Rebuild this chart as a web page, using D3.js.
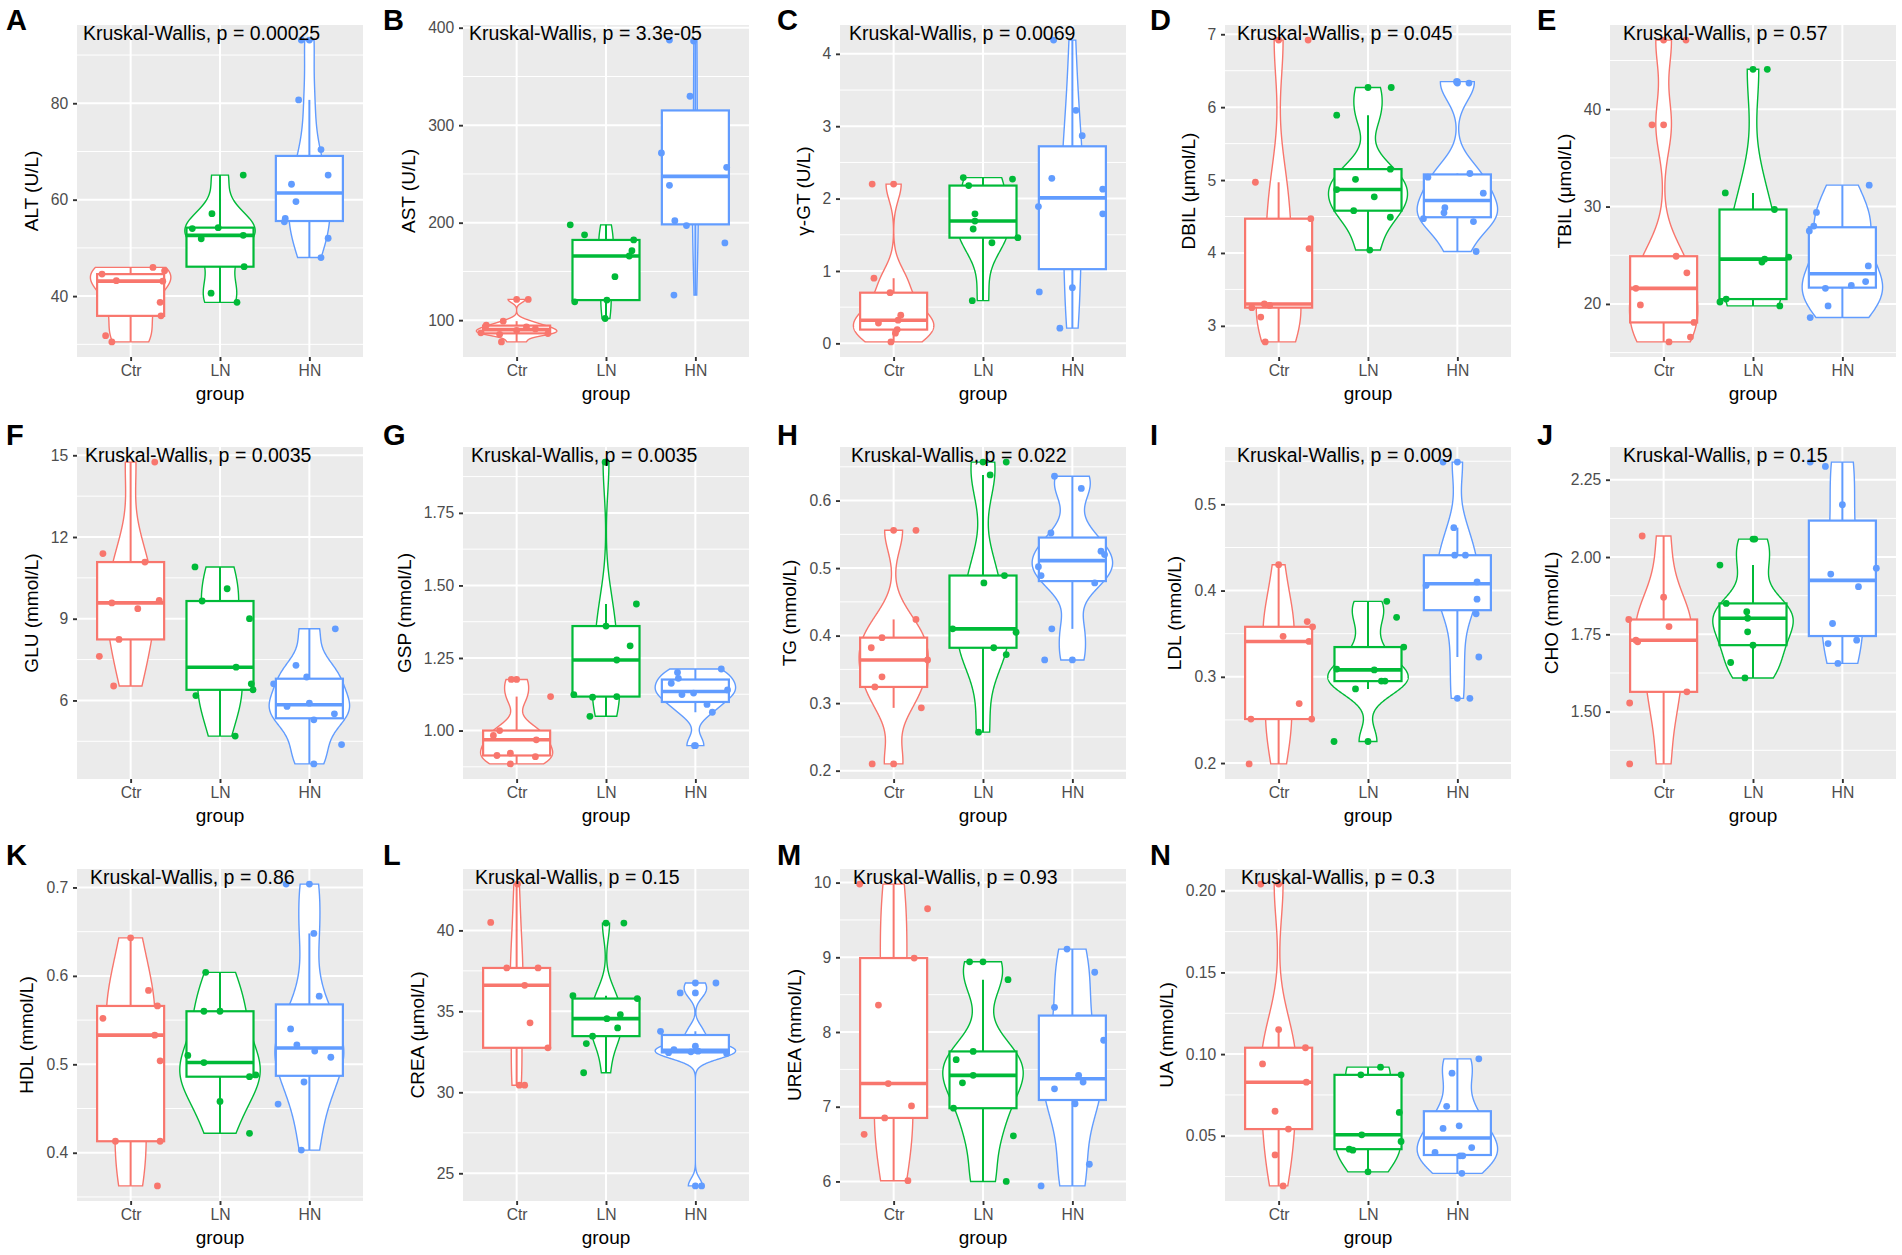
<!DOCTYPE html>
<html lang="en">
<head>
<meta charset="UTF-8">
<title>Serum biochemistry by group</title>
<script src="https://d3js.org/d3.v7.min.js"></script>
<style>
  body { margin: 0; background: #fff; }
  svg { display: block; }
  text { font-family: "Liberation Sans", Arial, sans-serif; }
</style>
</head>
<body>
<svg id="fig" width="1902" height="1255"></svg>
<script>
const groups = ["Ctr", "LN", "HN"];
const groupColors = ["#F8766D", "#00BA38", "#619CFF"];
const panelLetters = ["A","B","C","D","E","F","G","H","I","J","K","L","M","N"];
const yTitles = ["ALT (U/L)", "AST (U/L)", "\u03b3-GT (U/L)", "DBIL (\u03bcmol/L)", "TBIL (\u03bcmol/L)",
  "GLU (mmol/L)", "GSP (mmol/L)", "TG (mmol/L)", "LDL (mmol/L)", "CHO (mmol/L)",
  "HDL (mmol/L)", "CREA (\u03bcmol/L)", "UREA (mmol/L)", "UA (mmol/L)"];
const pLabels = ["0.00025", "3.3e-05", "0.0069", "0.045", "0.57", "0.0035", "0.0035", "0.022",
  "0.009", "0.15", "0.86", "0.15", "0.93", "0.3"];
const yTicks = [
  ["40","60","80"], ["100","200","300","400"], ["0","1","2","3","4"], ["3","4","5","6","7"],
  ["20","30","40"], ["6","9","12","15"], ["1.00","1.25","1.50","1.75"],
  ["0.2","0.3","0.4","0.5","0.6"], ["0.2","0.3","0.4","0.5"], ["1.50","1.75","2.00","2.25"],
  ["0.4","0.5","0.6","0.7"], ["25","30","35","40"], ["6","7","8","9","10"],
  ["0.05","0.10","0.15","0.20"]
];

// values per group (Ctr, LN, HN)
const ALT = [
  [45.95, 45.25, 44.56, 43.2, 43.1, 38.7, 35.9, 31.8, 30.5],
  [65.1, 57.1, 54.0, 54.2, 51.9, 52.6, 46.1, 40.6, 38.7],
  [93.1, 80.7, 70.4, 65.1, 63.2, 59.6, 56.1, 55.4, 52.0, 48.0]
];
const AST = [
  [121.3, 99, 94.9, 93, 87, 89.5, 91, 86.3, 85.5, 77.7],
  [197.8, 187.5, 182.3, 171.3, 165.8, 144.6, 118.8, 120.6, 101.7],
  [387.3, 386.3, 329.7, 271.5, 256.8, 238.3, 202.1, 197, 179.2, 125.7]
];
const GGT = [
  [2.2, 0.90, 0.70, 0.39, 0.32, 0.28, 0.19, 0.14, 0.02],
  [2.29, 2.27, 2.18, 1.79, 1.69, 1.58, 1.39, 1.46, 0.59],
  [4.19, 3.22, 2.87, 2.28, 2.13, 1.89, 1.79, 0.71, 0.77, 0.21]
];
const DBIL = [
  [6.92, 4.97, 4.47, 4.06, 3.30, 3.28, 3.25, 3.12, 2.78],
  [6.27, 5.89, 5.15, 5.01, 4.87, 4.77, 4.58, 4.49, 4.04],
  [6.35, 6.33, 5.09, 5.04, 4.82, 4.62, 4.55, 4.47, 4.43, 4.02]
];
const TBIL = [
  [47.1, 38.4, 24.9, 23.2, 21.6, 19.9, 18.1, 16.6, 16.1],
  [44.1, 31.4, 29.7, 24.8, 24.6, 24.3, 20.5, 20.2, 19.8],
  [32.2, 29.4, 28.0, 27.5, 23.9, 22.3, 21.9, 21.6, 19.8, 18.6]
];
const GLU = [
  [14.75, 11.39, 11.08, 9.67, 9.58, 9.37, 8.24, 7.62, 6.53],
  [10.9, 10.1, 9.65, 9.0, 7.22, 6.61, 6.39, 6.18, 4.69],
  [8.63, 7.29, 6.86, 6.61, 5.78, 5.90, 5.51, 5.29, 4.38, 3.67]
];
const GSP = [
  [1.176, 1.117, 1.0, 0.983, 0.968, 0.922, 0.914, 0.91, 0.885],
  [1.925, 1.436, 1.36, 1.292, 1.243, 1.124, 1.117, 1.115, 1.049],
  [1.212, 1.2, 1.18, 1.163, 1.14, 1.129, 1.124, 1.09, 1.063, 0.948]
];
const TG = [
  [0.556, 0.424, 0.397, 0.382, 0.364, 0.339, 0.324, 0.293, 0.210],
  [0.657, 0.638, 0.489, 0.478, 0.41, 0.405, 0.382, 0.372, 0.257],
  [0.636, 0.618, 0.552, 0.525, 0.52, 0.502, 0.489, 0.478, 0.41, 0.364]
];
const LDL = [
  [0.430, 0.364, 0.358, 0.347, 0.341, 0.269, 0.251, 0.251, 0.199],
  [0.3875, 0.369, 0.3345, 0.309, 0.308, 0.295, 0.295, 0.286, 0.225],
  [0.549, 0.473, 0.441, 0.441, 0.41, 0.406, 0.39, 0.373, 0.323, 0.275]
];
const CHO = [
  [2.068, 1.870, 1.798, 1.775, 1.731, 1.726, 1.564, 1.528, 1.331],
  [2.058, 1.974, 1.85, 1.823, 1.802, 1.758, 1.715, 1.659, 1.609],
  [2.307, 2.293, 2.169, 1.964, 1.945, 1.904, 1.785, 1.72, 1.731, 1.656]
];
const HDL = [
  [0.643, 0.5835, 0.566, 0.552, 0.533, 0.504, 0.413, 0.413, 0.3625],
  [0.604, 0.56, 0.56, 0.51, 0.502, 0.488, 0.486, 0.458, 0.422],
  [0.7038, 0.648, 0.577, 0.54, 0.522, 0.515, 0.508, 0.48, 0.455, 0.403]
];
const CREA = [
  [42.86, 40.49, 37.68, 37.68, 36.61, 34.29, 32.75, 30.44, 30.44],
  [40.45, 35.97, 35.79, 34.8, 34.55, 33.98, 33.47, 33.01, 31.21],
  [36.75, 36.14, 33.77, 32.85, 32.64, 32.54, 32.5, 32.45, 32.4, 24.22]
];
const UREA = [
  [9.98, 9.65, 8.99, 8.36, 7.31, 7.01, 6.85, 6.63, 6.01],
  [8.94, 8.70, 7.74, 7.63, 7.42, 7.32, 6.98, 6.61, 6.0],
  [9.11, 8.80, 8.33, 7.89, 7.42, 7.33, 7.24, 7.04, 6.23, 5.94]
];
const UA = [
  [0.2041, 0.115, 0.1039, 0.094, 0.0828, 0.065, 0.0541, 0.0383, 0.0193],
  [0.092, 0.0873, 0.0873, 0.0643, 0.0506, 0.0465, 0.0418, 0.0412, 0.0279],
  [0.0971, 0.0883, 0.068, 0.0545, 0.0561, 0.0428, 0.0398, 0.0377, 0.0377, 0.027]
];

// horizontal jitter of each point, in category widths (as seen in the picture)
const ALT_jit = [
  [0.25, 0.38, -0.32, -0.16, 0.36, 0.33, 0.34, -0.28, -0.21],
  [0.26, -0.09, -0.31, -0.02, -0.21, 0.26, 0.27, -0.1, 0.19],
  [-0.09, -0.12, 0.13, 0.21, -0.2, -0.15, -0.27, -0.28, 0.21, 0.13]
];
const AST_jit = [
  [0.13, -0.15, -0.34, 0.11, -0.4, 0, 0.21, 0.35, -0.19, -0.17],
  [-0.4, -0.24, 0.31, 0.29, 0.26, 0.1, -0.35, 0.01, -0.01],
  [-0.29, -0.02, -0.06, -0.38, 0.35, -0.29, -0.23, -0.1, 0.33, -0.24]
];
const GGT_jit = [
  [-0.24, -0.22, -0.04, 0.08, 0.05, -0.17, 0.04, 0.02, -0.03],
  [-0.22, 0.33, -0.16, -0.09, -0.09, -0.11, 0.1, 0.39, -0.12],
  [-0.21, 0.04, 0.11, -0.23, 0.34, -0.38, 0.34, -0.37, 0, -0.14]
];
const DBIL_jit = [
  [0.33, -0.26, 0.36, 0.34, -0.16, -0.1, -0.3, -0.2, -0.15],
  [0.26, -0.35, 0.25, -0.14, -0.35, 0.07, -0.16, 0.25, 0.02],
  [-0.01, 0.13, 0.14, -0.33, 0.29, -0.14, -0.15, -0.38, 0.18, 0.21]
];
const TBIL_jit = [
  [0.25, -0.13, 0.14, 0.26, -0.31, -0.26, 0.34, 0.3, 0.06],
  [0.16, -0.31, 0.24, 0.4, 0.13, 0.1, -0.3, -0.37, 0.3],
  [0.3, -0.29, -0.32, -0.37, 0.29, 0.26, 0.1, -0.19, -0.16, -0.36]
];
const GLU_jit = [
  [0.27, -0.31, 0.16, 0.32, -0.21, 0.08, -0.13, -0.35, -0.19],
  [-0.28, 0.08, -0.2, 0.33, 0.18, 0.35, 0.37, -0.27, 0.17],
  [0.29, -0.15, -0.03, -0.4, -0.25, 0, 0.28, 0.05, 0.36, 0.05]
];
const GSP_jit = [
  [-0.06, 0.38, -0.19, -0.26, 0.22, -0.07, -0.22, 0.21, -0.07],
  [-0.01, 0.34, 0, 0.27, 0.12, -0.36, 0.12, -0.15, -0.18],
  [0.29, -0.2, -0.19, -0.27, 0.36, -0.02, -0.15, 0.13, 0.19, -0.01]
];
const TG_jit = [
  [0.25, 0.25, -0.13, -0.25, 0.38, -0.13, -0.21, 0.31, -0.24],
  [0.26, 0.08, 0.24, 0.01, -0.34, 0.37, 0.12, 0.26, -0.05],
  [-0.2, 0.1, -0.24, 0.32, 0.36, -0.38, -0.35, 0.25, -0.23, -0.31]
];
const LDL_jit = [
  [0, 0.32, 0.38, 0.05, 0.34, 0.23, -0.31, 0.37, -0.33],
  [0.21, 0.32, 0.4, -0.35, 0.07, 0.15, 0.19, -0.14, -0.38],
  [-0.16, -0.04, -0.03, 0.09, 0.22, -0.35, 0.22, 0.21, 0.24, 0.14]
];
const CHO_jit = [
  [-0.24, 0, -0.39, 0.06, -0.31, -0.29, 0.26, -0.38, -0.38],
  [0.02, -0.37, -0.3, -0.07, -0.06, -0.06, 0, -0.25, -0.09],
  [-0.36, -0.19, 0, 0.38, -0.13, 0.18, -0.11, -0.16, 0.16, -0.05]
];
const HDL_jit = [
  [0, 0.2, 0.3, -0.31, 0.27, 0.33, -0.17, 0.33, 0.3],
  [-0.16, -0.18, 0, -0.36, -0.18, 0.4, 0.33, 0, 0.33],
  [-0.26, 0.05, 0.11, -0.21, -0.14, 0.06, 0.24, -0.06, -0.35, -0.09]
];
const CREA_jit = [
  [0.01, -0.29, -0.11, 0.24, 0.09, 0.15, 0.35, 0.03, 0.09],
  [0.2, -0.37, 0.35, 0.16, 0.01, 0.13, -0.15, -0.22, -0.25],
  [0.23, -0.17, -0.39, 0, -0.24, 0.03, -0.05, -0.3, 0.35, 0.07]
];
const UREA_jit = [
  [-0.38, 0.38, 0.23, -0.17, -0.06, 0.2, -0.1, -0.33, 0.16],
  [-0.15, 0.28, -0.11, -0.3, -0.11, -0.23, -0.33, 0.34, 0.26],
  [-0.06, 0.25, -0.2, 0.35, 0.07, 0.12, -0.2, 0.03, 0.19, -0.35]
];
const UA_jit = [
  [-0.2, 0, 0.3, -0.18, 0.31, -0.04, 0.11, -0.04, 0.05],
  [0.14, -0.08, 0.37, 0.35, -0.07, 0.37, -0.21, -0.17, 0],
  [0.24, -0.06, -0.12, -0.16, 0.02, 0.16, -0.25, 0.03, 0.06, 0.05]
];

const panelValues = [ALT, AST, GGT, DBIL, TBIL, GLU, GSP, TG, LDL, CHO, HDL, CREA, UREA, UA];
const panelJitter = [ALT_jit, AST_jit, GGT_jit, DBIL_jit, TBIL_jit, GLU_jit, GSP_jit, TG_jit,
  LDL_jit, CHO_jit, HDL_jit, CREA_jit, UREA_jit, UA_jit];

// layout
const colX = [77, 463, 840, 1225, 1610], rowY = [25, 447, 869];
const pw = 286, ph = 332;
const letterX = [6, 383, 777, 1150, 1537], letterBase = [29.5, 445, 865];
const labelDx = [6, 6, 9, 12, 13, 8, 8, 11, 12, 13, 13, 12, 13, 16];

const svg = d3.select("#fig");
svg.append("rect").attr("width", 1902).attr("height", 1255).attr("fill", "#fff");

// gaussian kernel density, bw.nrd0, trimmed to the data range
function kde(v) {
  const s = v.slice().sort(d3.ascending);
  const n = s.length;
  const sd = d3.deviation(s);
  const iqr = d3.quantile(s, 0.75) - d3.quantile(s, 0.25);
  let lo = Math.min(sd, iqr / 1.34);
  if (!(lo > 0)) lo = sd || Math.abs(s[0]) || 1;
  const bw = 0.9 * lo * Math.pow(n, -0.2);
  const a = s[0], b = s[n - 1];
  const out = [];
  for (let j = 0; j < 512; j++) {
    const t = a + (b - a) * j / 511;
    let sum = 0;
    for (const xi of s) { const z = (t - xi) / bw; sum += Math.exp(-0.5 * z * z); }
    out.push([t, sum / (n * bw * Math.sqrt(2 * Math.PI))]);
  }
  return out;
}

function boxStats(v) {
  const s = v.slice().sort(d3.ascending);
  const q1 = d3.quantile(s, 0.25), med = d3.quantile(s, 0.5), q3 = d3.quantile(s, 0.75);
  const iqr = q3 - q1;
  const inside = s.filter(d => d >= q1 - 1.5 * iqr && d <= q3 + 1.5 * iqr);
  return {
    q1, med, q3,
    lo: d3.min(inside), hi: d3.max(inside),
    out: s.filter(d => d < q1 - 1.5 * iqr || d > q3 + 1.5 * iqr)
  };
}

panelValues.forEach((vals, i) => {
  const col = i % 5, row = Math.floor(i / 5);
  const x0 = colX[col], y0 = rowY[row];
  const g = svg.append("g");

  const x = d3.scalePoint().domain(groups).range([x0, x0 + pw]).padding(0.6);
  const step = x.step();
  const [lo, hi] = d3.extent(vals.flat());
  const pad = (hi - lo) * 0.05;
  const y = d3.scaleLinear().domain([lo - pad, hi + pad]).range([y0 + ph, y0]);

  const tickVals = yTicks[i].map(Number);
  const tStep = tickVals[1] - tickVals[0];
  const minors = [];
  for (let t = tickVals[0] - tStep / 2; t <= hi + pad; t += tStep) {
    if (t >= lo - pad) minors.push(t);
  }

  g.append("rect").attr("x", x0).attr("y", y0).attr("width", pw).attr("height", ph)
    .attr("fill", "#EBEBEB");
  g.selectAll(".minor").data(minors).join("line")
    .attr("x1", x0).attr("x2", x0 + pw).attr("y1", d => y(d)).attr("y2", d => y(d))
    .attr("stroke", "#fff").attr("stroke-width", 1);
  g.selectAll(".majorY").data(tickVals).join("line")
    .attr("x1", x0).attr("x2", x0 + pw).attr("y1", d => y(d)).attr("y2", d => y(d))
    .attr("stroke", "#fff").attr("stroke-width", 2);
  g.selectAll(".majorX").data(groups).join("line")
    .attr("x1", d => x(d)).attr("x2", d => x(d)).attr("y1", y0).attr("y2", y0 + ph)
    .attr("stroke", "#fff").attr("stroke-width", 2);

  // violins, scale = "area"
  const dens = vals.map(kde);
  const dmax = d3.max(dens, d => d3.max(d, p => p[1]));
  dens.forEach((d, k) => {
    const cx = x(groups[k]);
    const area = d3.area()
      .y(p => y(p[0]))
      .x0(p => cx - 0.45 * step * p[1] / dmax)
      .x1(p => cx + 0.45 * step * p[1] / dmax);
    g.append("path").attr("d", area(d)).attr("fill", "#fff")
      .attr("stroke", groupColors[k]).attr("stroke-width", 1.4);
  });

  // boxplots
  vals.forEach((v, k) => {
    const st = boxStats(v);
    const cx = x(groups[k]);
    const bw = 0.75 * step;
    const c = groupColors[k];
    g.selectAll(null).data(st.out).join("circle")
      .attr("cx", cx).attr("cy", d => y(d)).attr("r", 3.4).attr("fill", c);
    g.append("line").attr("x1", cx).attr("x2", cx).attr("y1", y(st.q3)).attr("y2", y(st.hi))
      .attr("stroke", c).attr("stroke-width", 2);
    g.append("line").attr("x1", cx).attr("x2", cx).attr("y1", y(st.q1)).attr("y2", y(st.lo))
      .attr("stroke", c).attr("stroke-width", 2);
    g.append("rect").attr("x", cx - bw / 2).attr("y", y(st.q3))
      .attr("width", bw).attr("height", y(st.q1) - y(st.q3))
      .attr("fill", "#fff").attr("stroke", c).attr("stroke-width", 2.2);
    g.append("line").attr("x1", cx - bw / 2).attr("x2", cx + bw / 2)
      .attr("y1", y(st.med)).attr("y2", y(st.med))
      .attr("stroke", c).attr("stroke-width", 3.6);
  });

  // jittered points
  vals.forEach((v, k) => {
    const jit = panelJitter[i][k];
    g.selectAll(null).data(v.map((d, j) => [d, jit[j]])).join("circle")
      .attr("cx", d => x(groups[k]) + d[1] * step)
      .attr("cy", d => y(d[0]))
      .attr("r", 3.4).attr("fill", groupColors[k]);
  });

  // axes
  const ax = g.append("g").attr("transform", `translate(${x0},0)`)
    .call(d3.axisLeft(y).tickValues(tickVals).tickFormat((d, j) => yTicks[i][j])
      .tickSize(4).tickPadding(4.7));
  const bx = g.append("g").attr("transform", `translate(0,${y0 + ph})`)
    .call(d3.axisBottom(x).tickSize(4).tickPadding(3.9));
  [ax, bx].forEach(a => {
    a.select(".domain").remove();
    a.selectAll(".tick line").attr("stroke", "#333333").attr("stroke-width", 1.9);
    a.selectAll(".tick text").attr("fill", "#4D4D4D").style("font-size", "15.7px")
      .style("font-family", "'Liberation Sans', Arial, sans-serif");
  });

  const labW = d3.max(ax.selectAll(".tick text").nodes(), n => n.getComputedTextLength());
  const titleX = x0 - 8.7 - labW - 13;
  g.append("text").attr("transform", `translate(${titleX},${y0 + ph / 2}) rotate(-90)`)
    .attr("text-anchor", "middle").style("font-size", "19px").attr("fill", "#000")
    .text(yTitles[i]);

  g.append("text").attr("x", x0 + pw / 2).attr("y", y0 + ph + 43)
    .attr("text-anchor", "middle").style("font-size", "19px").attr("fill", "#000")
    .text("group");

  g.append("text").attr("x", x0 + labelDx[i]).attr("y", y(hi))
    .style("font-size", "19.5px").attr("fill", "#000")
    .text("Kruskal-Wallis, p = " + pLabels[i]);

  svg.append("text").attr("x", letterX[col]).attr("y", letterBase[row])
    .style("font-size", "29px").style("font-weight", "bold").attr("fill", "#000")
    .text(panelLetters[i]);
});
</script>
</body>
</html>
